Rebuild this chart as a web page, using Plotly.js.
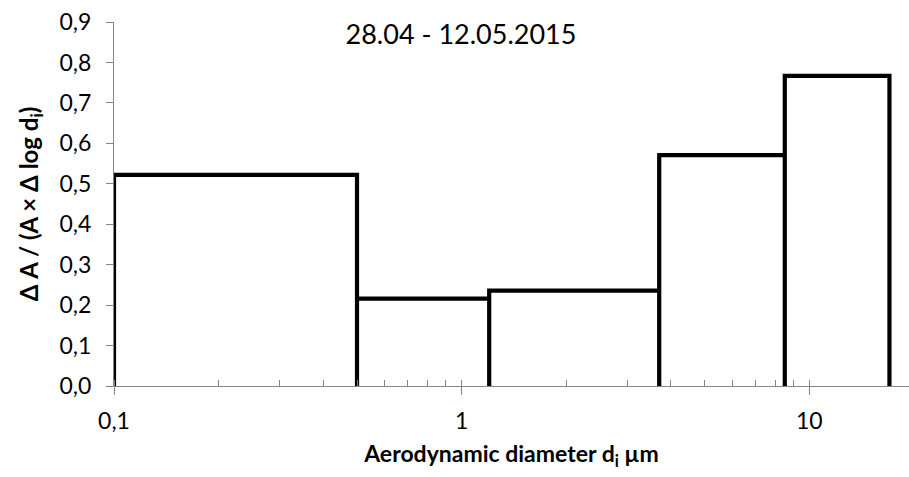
<!DOCTYPE html>
<html>
<head>
<meta charset="utf-8">
<script src="https://cdn.plot.ly/plotly-3.0.1.min.js"></script>
<style>
  html, body { margin: 0; padding: 0; background: #ffffff; }
  #chart { width: 909px; height: 477px; }
</style>
</head>
<body>
<div id="chart"></div>
<script>
// Size bins of the impactor stages (µm) and the normalised fraction per bin
const binEdges = [0.1, 0.5, 1.2, 3.7, 8.5, 17];
const binValues = [0.522, 0.216, 0.236, 0.571, 0.767];

const xTickVals = [0.1, 1, 10];
const xTickText = ['0,1', '1', '10'];
const yTickVals = [0, 0.1, 0.2, 0.3, 0.4, 0.5, 0.6, 0.7, 0.8, 0.9];

// Outline of each bin as an open box standing on the axis
const px = [];
const py = [];
for (let i = 0; i < binValues.length; i++) {
  px.push(binEdges[i], binEdges[i], binEdges[i + 1], binEdges[i + 1]);
  py.push(0, binValues[i], binValues[i], 0);
}

const FONT = 'Lato, "Open Sans", "Liberation Sans", sans-serif';
const GREY = '#868686';

const trace = {
  type: 'scatter',
  mode: 'lines',
  x: px,
  y: py,
  line: { color: '#000000', width: 4.2 },
  cliponaxis: false,
  hoverinfo: 'skip',
  showlegend: false
};

const layout = {
  width: 909,
  height: 477,
  margin: { l: 114, r: 0, t: 22, b: 91, pad: 0 },
  paper_bgcolor: '#ffffff',
  plot_bgcolor: '#ffffff',
  separators: ', ',
  font: { family: FONT, color: '#000000', size: 24 },
  title: {
    text: '28.04 - 12.05.2015',
    font: { family: FONT, size: 27, color: '#000000' },
    xref: 'container', yref: 'container',
    x: 461 / 909, xanchor: 'center',
    y: 1 - 35 / 477, yanchor: 'middle'
  },
  xaxis: {
    type: 'log',
    range: [-1, Math.log10(19.35)],
    tickmode: 'array',
    tickvals: xTickVals,
    ticktext: xTickText,
    ticks: 'outside',
    ticklen: 8,
    tickwidth: 1,
    tickcolor: GREY,
    ticklabelstandoff: 6,
    minor: {
      ticks: 'inside',
      ticklen: 6,
      tickwidth: 1,
      tickcolor: GREY,
      dtick: 'D1',
      showgrid: false
    },
    showline: true,
    linecolor: GREY,
    linewidth: 1,
    showgrid: false,
    zeroline: false,
    automargin: false,
    tickfont: { family: FONT, size: 23, color: '#000000' },
    title: {
      text: 'Aerodynamic diameter d<sub>i</sub> µm',
      font: { family: FONT, size: 23, color: '#000000', weight: 700 },
      standoff: 13
    }
  },
  yaxis: {
    range: [0, 0.9],
    tickmode: 'array',
    tickvals: yTickVals,
    tickformat: '.1f',
    ticks: 'outside',
    ticklen: 7,
    tickwidth: 1,
    tickcolor: GREY,
    ticklabelstandoff: 10,
    showline: true,
    linecolor: GREY,
    linewidth: 1,
    showgrid: false,
    zeroline: false,
    automargin: false,
    tickfont: { family: FONT, size: 23, color: '#000000' },
    title: {
      text: 'Δ A / (A × Δ log d<sub>i</sub>)',
      font: { family: FONT, size: 24, color: '#000000', weight: 700 },
      standoff: 14
    }
  }
};

Plotly.newPlot('chart', [trace], layout, { displayModeBar: false, staticPlot: true });
</script>
</body>
</html>
